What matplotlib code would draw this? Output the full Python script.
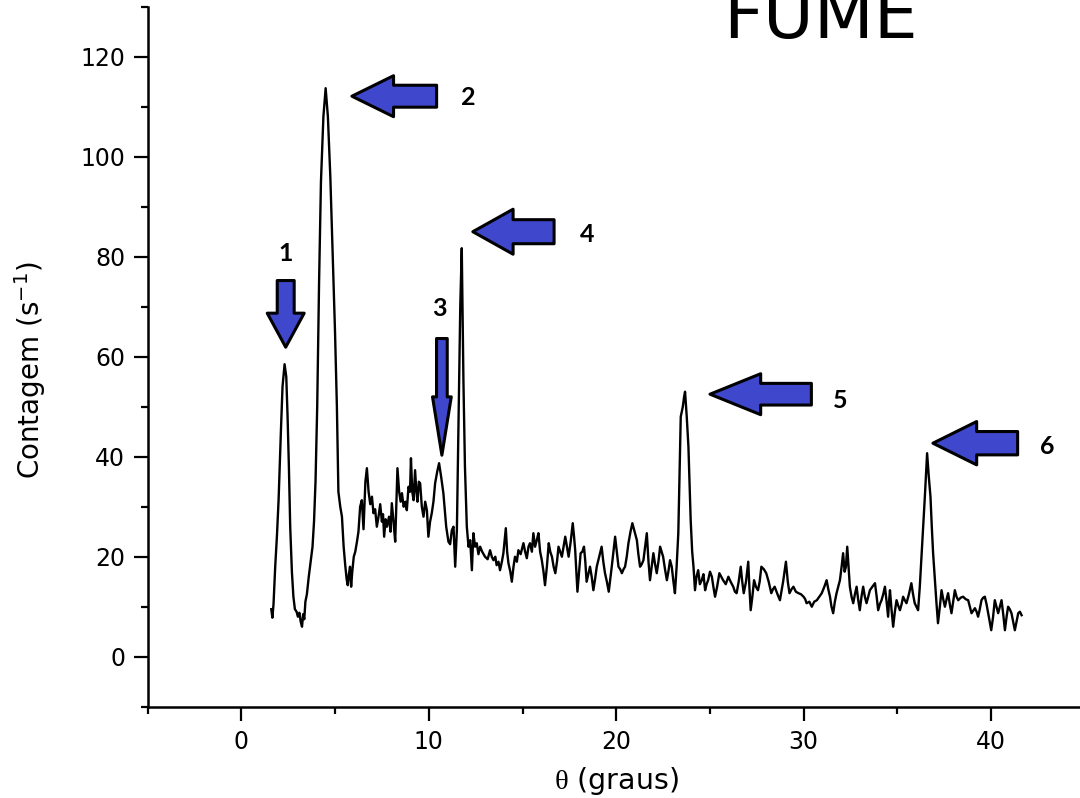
import matplotlib
matplotlib.use("Agg")
import matplotlib.pyplot as plt
from matplotlib.ticker import MultipleLocator

# ── Data ───────────────────────────────────────────────────────

theta = [
    1.60, 1.66, 1.72, 1.81, 1.90, 1.99, 2.11, 2.20, 2.31, 2.40, 2.47, 2.54,
    2.61, 2.70, 2.78, 2.86, 2.95, 3.02, 3.10, 3.17, 3.24, 3.30, 3.36, 3.42,
    3.50, 3.60, 3.70, 3.80, 3.88, 3.96, 4.05, 4.15, 4.25, 4.38, 4.50, 4.62,
    4.75, 4.88, 5.00, 5.10, 5.18, 5.28, 5.37, 5.46, 5.54, 5.62, 5.68, 5.74,
    5.80, 5.86, 5.92, 6.00, 6.08, 6.17, 6.25, 6.34, 6.43, 6.52, 6.62, 6.70,
    6.79, 6.88, 6.97, 7.05, 7.14, 7.23, 7.32, 7.41, 7.50, 7.56, 7.62, 7.70,
    7.77, 7.88, 7.96, 8.03, 8.12, 8.21, 8.33, 8.42, 8.50, 8.57, 8.66, 8.75,
    8.83, 8.92, 9.00, 9.05, 9.12, 9.19, 9.27, 9.34, 9.40, 9.47, 9.54, 9.63,
    9.72, 9.81, 9.90, 9.98, 10.07, 10.16, 10.25, 10.34, 10.45, 10.55, 10.66,
    10.78, 10.86, 10.93, 11.05, 11.14, 11.23, 11.32, 11.41, 11.50, 11.58,
    11.68, 11.76, 11.85, 11.93, 12.03, 12.12, 12.21, 12.30, 12.38, 12.47,
    12.56, 12.65, 12.74, 12.85, 13.00, 13.14, 13.27, 13.36, 13.45, 13.55,
    13.62, 13.72, 13.80, 13.90, 13.98, 14.11, 14.18, 14.25, 14.35, 14.43,
    14.52, 14.60, 14.70, 14.78, 14.90, 15.05, 15.14, 15.23, 15.32, 15.40,
    15.50, 15.58, 15.67, 15.76, 15.85, 15.94, 16.03, 16.12, 16.20, 16.30,
    16.40, 16.48, 16.57, 16.66, 16.75, 16.84, 16.92, 17.01, 17.10, 17.19,
    17.28, 17.37, 17.46, 17.57, 17.68, 17.75, 17.81, 17.87, 17.93, 18.02,
    18.10, 18.19, 18.28, 18.35, 18.42, 18.51, 18.60, 18.69, 18.78, 18.87,
    18.96, 19.09, 19.22, 19.31, 19.40, 19.50, 19.60, 19.68, 19.76, 19.85,
    19.94, 20.03, 20.12, 20.21, 20.30, 20.39, 20.47, 20.56, 20.65, 20.76,
    20.86, 20.98, 21.10, 21.18, 21.27, 21.36, 21.45, 21.54, 21.63, 21.72,
    21.80, 21.89, 21.98, 22.07, 22.16, 22.25, 22.34, 22.42, 22.50, 22.60,
    22.70, 22.78, 22.87, 22.96, 23.05, 23.13, 23.22, 23.31, 23.44, 23.55,
    23.62, 23.67, 23.76, 23.85, 23.97, 24.05, 24.12, 24.20, 24.28, 24.37,
    24.46, 24.56, 24.65, 24.74, 24.82, 24.90, 25.00, 25.10, 25.18, 25.27,
    25.38, 25.50, 25.60, 25.70, 25.84, 25.98, 26.10, 26.24, 26.33, 26.42,
    26.53, 26.64, 26.72, 26.80, 26.92, 27.04, 27.10, 27.17, 27.26, 27.35,
    27.45, 27.56, 27.65, 27.74, 27.87, 28.00, 28.13, 28.27, 28.36, 28.45,
    28.60, 28.73, 28.90, 29.05, 29.15, 29.24, 29.35, 29.45, 29.58, 29.72,
    29.85, 29.99, 30.08, 30.15, 30.30, 30.43, 30.56, 30.70, 30.83, 30.96,
    31.10, 31.22, 31.31, 31.40, 31.48, 31.57, 31.66, 31.75, 31.84, 31.93,
    32.02, 32.10, 32.18, 32.25, 32.32, 32.39, 32.46, 32.55, 32.64, 32.73,
    32.82, 32.90, 32.99, 33.08, 33.17, 33.26, 33.35, 33.44, 33.53, 33.66,
    33.80, 33.89, 33.97, 34.06, 34.15, 34.24, 34.33, 34.42, 34.50, 34.55,
    34.60, 34.68, 34.77, 34.86, 34.95, 35.04, 35.13, 35.22, 35.30, 35.39,
    35.48, 35.61, 35.74, 35.83, 35.92, 36.01, 36.10, 36.19, 36.28, 36.37,
    36.46, 36.58, 36.67, 36.76, 36.83, 36.90, 37.00, 37.08, 37.16, 37.26,
    37.35, 37.44, 37.53, 37.62, 37.70, 37.79, 37.88, 37.97, 38.06, 38.15,
    38.24, 38.37, 38.50, 38.64, 38.77, 38.86, 38.95, 39.04, 39.13, 39.22,
    39.30, 39.39, 39.48, 39.57, 39.66, 39.75, 39.84, 39.92, 40.00, 40.10,
    40.19, 40.28, 40.37, 40.46, 40.55, 40.64, 40.73, 40.82, 40.90, 40.99,
    41.08, 41.17, 41.26, 41.35, 41.44, 41.53, 41.62,
]

contagem = [
    9.5, 7.8, 10.5, 18.0, 24.0, 31.3, 44.7, 54.0, 58.5, 56.0, 48.0, 38.0,
    26.0, 17.0, 12.0, 9.5, 9.0, 8.0, 8.8, 7.0, 6.0, 8.5, 7.5, 11.0,
    12.5, 16.0, 19.0, 22.0, 27.0, 35.0, 50.0, 75.0, 95.0, 108.0, 113.7, 108.0,
    96.0, 80.0, 65.0, 50.0, 33.0, 30.0, 28.0, 22.0, 18.5, 15.5, 14.3, 16.5,
    18.0, 14.0, 17.0, 20.0, 21.0, 23.0, 25.0, 30.0, 31.3, 25.5, 35.0, 37.7,
    33.0, 30.5, 32.0, 28.7, 29.5, 26.0, 28.0, 30.5, 27.0, 28.5, 24.0, 27.5,
    26.0, 28.0, 25.0, 30.7, 27.0, 23.0, 37.7, 33.0, 31.0, 32.7, 30.0, 31.0,
    29.3, 34.0, 33.0, 39.7, 33.0, 31.3, 37.3, 33.0, 31.0, 35.0, 34.7, 30.0,
    28.0, 31.0, 29.3, 24.0, 27.0, 28.7, 31.0, 34.7, 37.0, 38.7, 36.0,
    32.7, 29.0, 26.0, 23.0, 22.5, 25.3, 26.0, 18.0, 25.3, 45.0,
    70.0, 81.7, 55.0, 38.0, 26.0, 22.0, 23.3, 17.3, 24.7, 22.0,
    22.7, 20.5, 22.0, 21.0, 20.0, 19.5, 21.3, 20.0, 19.3, 20.0,
    18.3, 19.0, 17.3, 19.0, 20.7, 25.7, 21.0, 18.7, 17.0, 15.0,
    18.0, 20.0, 19.0, 21.3, 20.5, 22.7, 21.0, 19.7, 22.0, 22.7,
    21.0, 24.7, 22.0, 23.3, 24.7, 21.0, 19.3, 17.0, 14.3, 18.0,
    22.7, 21.0, 20.0, 18.0, 16.7, 19.0, 22.0, 21.0, 20.0, 22.0,
    24.0, 22.0, 20.0, 23.0, 26.7, 24.0, 21.3, 17.0, 13.0, 17.0,
    20.7, 21.0, 22.0, 19.0, 15.0, 16.5, 18.0, 16.0, 13.3, 15.5,
    18.0, 20.0, 22.0, 19.0, 16.7, 15.0, 13.0, 15.5, 18.0, 21.0,
    24.0, 21.0, 18.0, 17.5, 16.7, 17.5, 18.0, 20.0, 22.7, 25.0,
    26.7, 25.0, 23.3, 20.5, 18.0, 18.5, 19.3, 22.0, 24.7, 19.0,
    15.3, 18.0, 20.7, 18.5, 16.7, 19.0, 22.0, 21.0, 20.0, 17.5,
    15.3, 17.0, 19.3, 18.0, 15.0, 12.7, 18.0, 24.7, 48.0, 50.0,
    52.0, 53.0, 48.0, 42.0, 27.3, 21.0, 18.0, 13.3, 16.0, 17.3,
    14.5, 15.3, 16.5, 13.3, 14.5, 15.3, 17.0, 16.0, 14.0, 12.0,
    14.0, 16.7, 16.0, 15.3, 14.5, 16.0, 15.0, 14.0, 13.0, 12.7,
    15.0, 18.0, 15.0, 12.7, 15.0, 19.0, 14.0, 9.3, 12.0, 15.3,
    14.0, 13.3, 15.0, 18.0, 17.5, 16.7, 15.0, 12.7, 13.5, 14.0,
    12.5, 11.3, 15.0, 19.0, 15.0, 12.7, 13.5, 14.0, 13.0, 12.7,
    12.5, 12.0, 11.5, 10.7, 11.0, 10.0, 11.0, 11.3, 12.0, 12.7,
    14.0, 15.3, 13.5, 12.0, 10.0, 8.7, 11.0, 12.7, 14.0, 15.3,
    18.0, 20.7, 17.0, 18.0, 22.0, 18.0, 14.0, 12.0, 10.7, 12.5,
    14.0, 11.5, 9.3, 12.0, 14.0, 12.0, 10.7, 12.0, 13.3, 14.0,
    14.7, 12.0, 9.3, 10.5, 11.3, 12.5, 14.0, 11.0, 8.0, 11.0,
    13.3, 9.5, 6.0, 9.0, 11.3, 10.2, 9.3, 10.5, 12.0, 11.3,
    10.7, 12.5, 14.7, 12.5, 10.7, 10.0, 9.3, 14.0, 20.0, 26.0,
    32.0, 40.7, 36.0, 32.0, 26.0, 20.7, 15.0, 10.7, 6.7, 10.0,
    13.3, 11.5, 10.0, 11.5, 12.7, 10.5, 8.7, 11.0, 13.3, 12.0,
    11.3, 11.8, 12.0, 11.5, 11.3, 10.0, 8.7, 9.2, 9.7, 9.0,
    8.0, 9.5, 11.3, 11.8, 12.0, 10.5, 8.7, 7.0, 5.3, 8.0,
    11.3, 10.0, 8.7, 10.0, 11.3, 8.5, 5.3, 8.0, 10.0, 9.5,
    8.7, 7.0, 5.3, 7.0, 8.7, 9.0, 8.3,
]

# peak markers: arrow tip (data coords), direction, numbered label
peak_ids     = ["1", "2", "3", "4", "5", "6"]
arrow_tip_x  = [2.37, 5.90, 10.70, 12.35, 25.00, 36.89]
arrow_tip_y  = [61.9, 112.1, 40.3, 85.0, 52.5, 42.7]
arrow_dir    = ["down", "left", "down", "left", "left", "left"]
label_x      = [2.35, 12.08, 10.55, 18.43, 31.93, 43.00]
label_y      = [80.7, 111.9, 69.7, 84.5, 51.3, 42.0]

# arrow geometry in points: (length, head_length, head_width, tail_width)
arrow_geom = [
    (48, 24.5, 26.6, 12.2),
    (61, 30.0, 29.5, 15.8),
    (84, 42.0, 13.5, 7.7),
    (58.5, 29.0, 32.4, 17.3),
    (73, 36.5, 29.5, 15.6),
    (61, 31.5, 31.2, 16.8),
]

ARROW_BLUE = "#3f48cc"

plt.rcParams['mathtext.fontset'] = 'custom'
plt.rcParams['mathtext.rm'] = 'Liberation Serif'

# ── Figure ─────────────────────────────────────────────────────

fig = plt.figure(figsize=(10.8, 7.98), dpi=100)
ax = fig.add_axes([0.1366, 0.1144, 0.8680, 0.8772])

ax.plot(theta, contagem, color='black', lw=1.7)

ax.set_xlim(-5, 45)
ax.set_ylim(-10, 130)
ax.xaxis.set_major_locator(MultipleLocator(10))
ax.xaxis.set_minor_locator(MultipleLocator(5))
ax.yaxis.set_major_locator(MultipleLocator(20))
ax.yaxis.set_minor_locator(MultipleLocator(10))
ax.set_xticks([0, 10, 20, 30, 40])
ax.set_yticks([0, 20, 40, 60, 80, 100, 120])

ax.spines['top'].set_visible(False)
ax.spines['right'].set_visible(False)
for side in ('left', 'bottom'):
    ax.spines[side].set_linewidth(1.8)

ax.tick_params(which='major', direction='out', length=10, width=1.6,
               labelsize=17, pad=6)
ax.tick_params(which='minor', direction='out', length=5, width=1.6)
ax.tick_params(axis='x', which='major', pad=7)

ax.set_xlabel(r'$\mathrm{\theta}$ (graus)', fontsize=20.5, va='center')
ax.xaxis.set_label_coords(0.5, -0.106)
ax.set_ylabel(r'Contagem (s$^{\mathregular{-1}}$)', fontsize=20, va='center')
ax.yaxis.set_label_coords(-0.125, 0.481)

# ── Peak arrows ────────────────────────────────────────────────

for i, pid in enumerate(peak_ids):
    length, hl, hw, tw = arrow_geom[i]
    offset = (0, length) if arrow_dir[i] == "down" else (length, 0)
    ax.annotate(
        "", xy=(arrow_tip_x[i], arrow_tip_y[i]), xycoords='data',
        xytext=offset, textcoords='offset points',
        arrowprops=dict(
            arrowstyle=f"simple,head_length={hl},head_width={hw},tail_width={tw}",
            mutation_scale=1, fc=ARROW_BLUE, ec='black', lw=2.2,
            shrinkA=0, shrinkB=0,
        ),
    )
    ax.text(label_x[i], label_y[i], pid, ha='center', va='center',
            fontsize=18, fontweight='bold', family='Lato')

fig.text(0.760, 1 - 38 / 798, 'FUME', ha='center', va='baseline', fontsize=50)

fig.savefig('out.png', dpi=100)
